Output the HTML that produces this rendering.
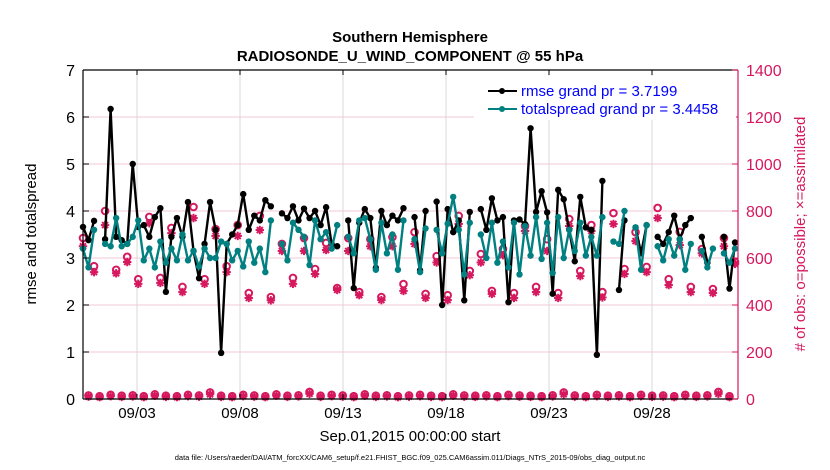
<!DOCTYPE html>
<html><head><meta charset="utf-8"><style>
body{margin:0;background:#fff;}
svg{display:block;font-family:"Liberation Sans",sans-serif;}
</style></head><body>
<svg id="chart" width="830" height="470" viewBox="0 0 830 470" xmlns="http://www.w3.org/2000/svg">
<rect width="830" height="470" fill="#fff"/>
<text x="410" y="42" text-anchor="middle" font-size="15" font-weight="bold">Southern Hemisphere</text>
<text x="410" y="61" text-anchor="middle" font-size="15" font-weight="bold">RADIOSONDE_U_WIND_COMPONENT @ 55 hPa</text>
<g id="grid"></g>
<g id="marks"></g>
<g id="axes"></g>
<text transform="translate(36,234) rotate(-90)" text-anchor="middle" font-size="15">rmse and totalspread</text>
<text transform="translate(805,234) rotate(-90)" text-anchor="middle" font-size="15" fill="#d6185e">#  of obs: o=possible; ×=assimilated</text>
<text x="410" y="441" text-anchor="middle" font-size="15">Sep.01,2015 00:00:00 start</text>
<text x="410" y="460" text-anchor="middle" font-size="7.5">data file: /Users/raeder/DAI/ATM_forcXX/CAM6_setup/f.e21.FHIST_BGC.f09_025.CAM6assim.011/Diags_NTrS_2015-09/obs_diag_output.nc</text>
<g>
<rect x="474" y="76" width="262" height="44" fill="#fff"/>
<line x1="488" y1="91" x2="517" y2="91" stroke="#000" stroke-width="2"/><circle cx="502" cy="91" r="3" fill="#000"/>
<text x="521" y="96" font-size="15" fill="#0000ff">rmse grand pr = 3.7199</text>
<line x1="488" y1="109" x2="517" y2="109" stroke="#008080" stroke-width="2"/><circle cx="502" cy="109" r="3" fill="#008080"/>
<text x="521" y="114" font-size="15" fill="#0000ff">totalspread grand pr = 3.4458</text>
</g>
</svg>
<script>
const rmse=[3.66,3.38,3.79,null,3.4,6.17,3.45,3.38,3.3,5.0,3.66,3.7,3.45,3.87,4.06,2.28,3.45,3.85,3.45,4.19,3.15,2.57,3.3,4.19,3.6,0.98,3.3,3.5,3.7,4.36,3.6,3.9,3.8,4.23,4.1,null,3.95,3.85,4.1,3.8,4.05,3.85,4.0,3.7,4.08,3.3,3.25,null,3.8,2.36,3.75,4.04,3.85,2.79,4.0,3.7,3.9,3.8,4.06,null,3.87,2.74,4.0,null,4.2,2.0,4.04,3.55,3.8,2.1,3.98,null,4.04,3.6,4.27,3.8,3.87,2.06,3.8,3.82,3.72,5.76,3.98,4.42,3.97,2.24,4.45,4.25,3.6,2.93,4.3,3.65,3.6,0.94,4.64,null,null,2.32,3.8,null,3.65,3.1,3.7,null,3.45,3.3,3.55,3.9,3.4,3.7,3.85,null,3.45,2.9,null,null,3.45,2.35,3.33];
const spread=[3.2,2.8,3.6,null,3.3,3.25,3.85,3.25,3.3,3.45,3.8,2.95,3.2,2.8,3.35,2.9,3.2,2.95,3.5,2.95,3.15,2.82,3.2,3.0,3.0,3.35,3.3,2.95,3.15,2.82,3.35,2.9,3.2,2.7,3.8,null,3.3,2.95,3.75,3.6,3.45,2.85,3.8,3.4,3.55,3.2,3.7,null,3.45,3.1,3.8,3.85,3.4,2.75,3.75,3.1,3.5,2.75,3.8,null,3.4,2.7,3.63,null,3.6,3.1,3.73,4.3,3.6,2.65,3.75,null,3.5,3.0,3.75,2.9,3.35,2.8,3.75,2.65,3.68,3.05,3.87,2.98,3.75,2.68,3.87,3.0,3.6,3.15,3.75,3.05,3.45,3.05,3.87,null,3.35,3.3,4.0,null,3.65,2.75,3.7,null,3.25,2.95,3.4,3.05,3.4,2.75,3.3,null,3.15,2.8,3.2,null,3.1,2.9,3.2];
const obsPossible=[685,15,565,12,800,18,550,14,605,16,510,12,775,20,515,14,728,12,477,18,817,15,510,28,723,14,565,12,740,18,451,15,779,12,434,20,660,14,515,16,685,30,553,14,664,18,472,15,685,12,455,20,680,14,434,16,689,12,489,15,710,18,447,14,608,12,442,20,779,15,545,14,617,16,460,12,638,18,451,15,736,14,477,12,680,16,451,28,766,15,545,12,740,18,455,14,791,16,553,12,710,18,562,14,813,15,510,12,711,18,477,14,638,16,468,30,685,12,583];
const obsAssim=[650,10,540,8,740,12,535,9,583,11,490,8,748,14,494,9,706,8,455,12,770,10,490,20,694,9,540,8,694,12,430,10,719,8,420,14,630,9,490,11,630,22,532,9,634,12,464,10,630,8,442,14,650,9,421,11,650,8,460,10,660,12,430,9,581,8,421,14,745,10,527,9,581,11,447,8,612,12,430,10,715,9,455,8,630,11,430,20,736,10,523,8,715,12,432,9,745,11,532,8,672,12,540,9,770,10,485,8,655,12,455,9,620,11,451,22,650,8,575];
const yTicks=[0,1,2,3,4,5,6,7];
const y2Ticks=[0,200,400,600,800,1000,1200,1400];
const xTickDays=[2,7,12,17,22,27];
const xTickLabels=["09/03","09/08","09/13","09/18","09/23","09/28"];

const L=83,R=738,T=70,B=399,NS="http://www.w3.org/2000/svg";
const N=rmse.length;
const xi=i=>L+i*(R-3-L)/(N-1);
const xd=d=>137+(d-2)*20.6;
const y=v=>B-(v/7)*(B-T);
const y2=v=>B-(v/1400)*(B-T);
function mk(tag,attrs,parent){const e=document.createElementNS(NS,tag);for(const k in attrs)e.setAttribute(k,attrs[k]);parent.appendChild(e);return e;}
const grid=document.getElementById('grid'),marks=document.getElementById('marks'),axes=document.getElementById('axes');
yTicks.forEach(v=>{if(v>0&&v<7){const g=mk('line',{x1:L,x2:R,y1:y(v),y2:y(v),stroke:'#f3c8d8','stroke-width':1},grid);}});
xTickDays.forEach((d,k)=>{const g=mk('line',{x1:xd(d),x2:xd(d),y1:T,y2:B,stroke:'#d8d8d8','stroke-width':1},grid);
const t=mk('text',{x:xd(d),y:418,'text-anchor':'middle','font-size':15},axes);t.textContent=xTickLabels[k];
mk('line',{x1:xd(d),x2:xd(d),y1:B,y2:B-5,stroke:'#000'},axes);mk('line',{x1:xd(d),x2:xd(d),y1:T,y2:T+5,stroke:'#000'},axes);});
// obs markers
const pink='#d6185e';
obsPossible.forEach((v,i)=>{const c=mk('circle',{cx:xi(i),cy:y2(v),r:3.3,fill:'none',stroke:pink,'stroke-width':2},marks);});
obsAssim.forEach((v,i)=>{const cx=xi(i),cy=y2(v),s=4.2;const g=mk('g',{stroke:pink,'stroke-width':2},marks);
mk('line',{x1:cx-s,x2:cx+s,y1:cy,y2:cy},g);mk('line',{x1:cx,x2:cx,y1:cy-s,y2:cy+s},g);mk('line',{x1:cx-3,x2:cx+3,y1:cy-3,y2:cy+3},g);mk('line',{x1:cx-3,x2:cx+3,y1:cy+3,y2:cy-3},g);});
function series(arr,color,name){let d='',pen=false;arr.forEach((v,i)=>{if(v==null){pen=false;return;}d+=(pen?'L':'M')+xi(i).toFixed(1)+' '+y(v).toFixed(1);pen=true;});
const p=mk('path',{d:d,fill:'none',stroke:color,'stroke-width':2.4,'stroke-linejoin':'round'},marks);
arr.forEach((v,i)=>{if(v==null)return;const c=mk('circle',{cx:xi(i),cy:y(v),r:3.2,fill:color},marks);});}
series(rmse,'#000','rmse');
series(spread,'#008080','totalspread');
// axes
mk('line',{x1:L,x2:R,y1:B,y2:B,stroke:'#000','stroke-width':1.2},axes);
mk('line',{x1:L,x2:R,y1:T,y2:T,stroke:'#000','stroke-width':1.2},axes);
mk('line',{x1:L,x2:L,y1:T,y2:B,stroke:'#000','stroke-width':1.2},axes);
mk('line',{x1:R,x2:R,y1:T,y2:B,stroke:pink,'stroke-width':1.2},axes);
yTicks.forEach(v=>{mk('line',{x1:L,x2:L+6,y1:y(v),y2:y(v),stroke:'#000'},axes);const t=mk('text',{x:L-8,y:y(v)+6,'text-anchor':'end','font-size':16},axes);t.textContent=v;});
y2Ticks.forEach(v=>{mk('line',{x1:R,x2:R-6,y1:y2(v),y2:y2(v),stroke:pink},axes);const t=mk('text',{x:R+8,y:y2(v)+6,'font-size':16,fill:pink},axes);t.textContent=v;});
</script>
</body></html>
